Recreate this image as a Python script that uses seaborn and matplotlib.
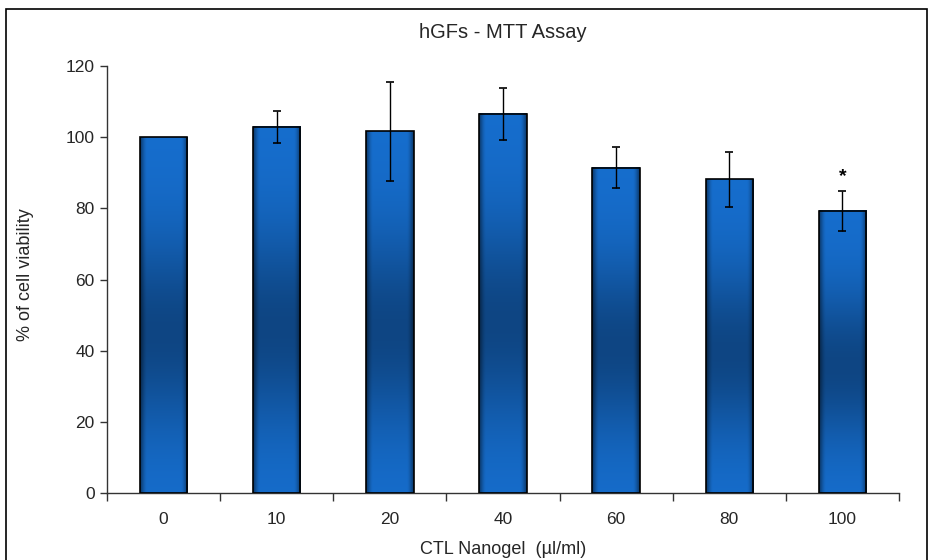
import numpy as np
import pandas as pd
import matplotlib
matplotlib.use("Agg")
import matplotlib.pyplot as plt
import seaborn as sns
from matplotlib.patches import Rectangle
from matplotlib.ticker import FixedLocator

concentrations = ["0", "10", "20", "40", "60", "80", "100"]
viability = [100.0, 102.9, 101.7, 106.6, 91.4, 88.2, 79.3]
errors = [0.0, 4.5, 13.9, 7.3, 5.7, 7.7, 5.6]
significant = [False, False, False, False, False, False, True]

sns.set_theme(style="white")
plt.rcParams['font.family'] = ['Liberation Sans', 'DejaVu Sans']

fig = plt.figure(figsize=(9.34, 5.6), dpi=100)
ax = fig.add_axes([107/934, 1-493/560, (899-107)/934, (493-66)/560])

df = pd.DataFrame({"conc": concentrations, "viab": viability})
sns.barplot(data=df, x="conc", y="viab", ax=ax, width=0.42, color="#1870d0",
            edgecolor="black", linewidth=1.2, errorbar=None)

ax.set_ylim(0, 120)
ax.set_xlim(-0.5, len(concentrations) - 0.5)

# gradient fill for each bar
light = np.array([22, 110, 206]) / 255.0
dark = np.array([12, 58, 110]) / 255.0
for p in list(ax.patches):
    x0 = p.get_x(); w = p.get_width(); h = p.get_height()
    ny, nx = 200, 60
    t = np.linspace(0, 1, ny)[:, None]  # 0 top -> 1 bottom
    v = np.exp(-((t - 0.55) / 0.27) ** 2)
    s = np.linspace(-1, 1, nx)[None, :]
    hedge = np.clip((np.abs(s) - 0.72) / 0.28, 0, 1) ** 1.5
    mix = np.clip(v * 0.78, 0, 1)
    img = light[None, None, :] * (1 - mix[..., None]) + dark[None, None, :] * mix[..., None]
    img = img * (1 - 0.5 * hedge[..., None])
    ax.imshow(img, extent=(x0, x0 + w, 0, h), aspect="auto", zorder=2,
              interpolation="bilinear", origin="upper")
    p.set_facecolor("none")
    p.set_zorder(3)

ax.set_xlim(-0.5, len(concentrations) - 0.5)
ax.set_ylim(0, 120)

xs = np.arange(len(concentrations))
err_idx = [i for i, e in enumerate(errors) if e > 0]
ax.errorbar(xs[err_idx], np.array(viability)[err_idx], yerr=np.array(errors)[err_idx],
            fmt="none", ecolor="black", elinewidth=1.0, capsize=3, capthick=1.2, zorder=4)

for i, sig in enumerate(significant):
    if sig:
        ax.text(xs[i], viability[i] + errors[i] + 1.5, "*", ha="center", va="bottom",
                fontsize=14, fontweight="bold", color="black", zorder=5)

sns.despine(ax=ax, top=True, right=True)
for sp in ["left", "bottom"]:
    ax.spines[sp].set_color("#333333")
    ax.spines[sp].set_linewidth(1.0)

ax.set_yticks(np.arange(0, 121, 20))
ax.tick_params(axis="y", which="major", direction="out", length=5, width=1, color="#333333",
               labelsize=12.5, left=True, pad=4)
ax.xaxis.set_minor_locator(FixedLocator(np.arange(-0.5, len(concentrations), 1.0)))
ax.tick_params(axis="x", which="major", length=0, labelsize=12.5, pad=14)
ax.tick_params(axis="x", which="minor", direction="out", length=6, width=1, color="#333333", bottom=True)

ax.set_xlabel("")
ax.set_ylabel("")
fig.text(25/934, 1-275/560, "% of cell viability", rotation=90, ha="center", va="center", fontsize=13)
fig.text(503/934, 1-549/560, "CTL Nanogel  (µl/ml)", ha="center", va="center", fontsize=13)
fig.text(503/934, 1-33/560, "hGFs - MTT Assay", ha="center", va="center", fontsize=14.5)

frame = Rectangle((6/934, -0.02), 921/934, (560-9)/560 + 0.02, transform=fig.transFigure,
                  fill=False, edgecolor="black", linewidth=1.2)
fig.patches.append(frame)

fig.savefig("out.png", dpi=100)
